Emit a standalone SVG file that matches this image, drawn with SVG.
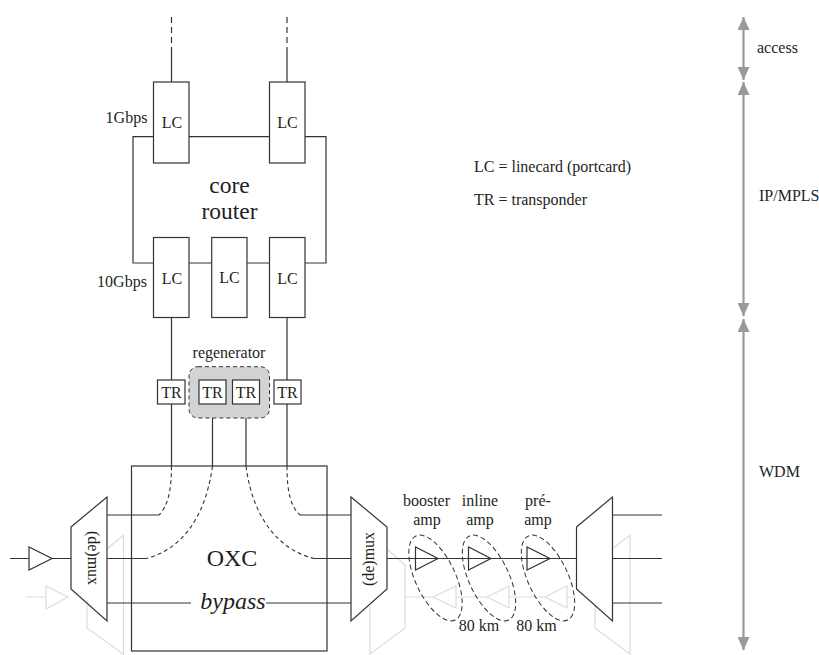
<svg xmlns="http://www.w3.org/2000/svg" width="819" height="655" viewBox="0 0 819 655">
<style>
text{font-family:"Liberation Serif","Times New Roman",serif;fill:#231f20;font-size:16px;text-anchor:middle}
.s{text-anchor:start}
.big{font-size:24px}
.r{font-size:23.5px}
.b{fill:#fff;stroke:#333;stroke-width:1.2}
.l{fill:none;stroke:#333;stroke-width:1.2}
.d{fill:none;stroke:#333;stroke-width:1.1;stroke-dasharray:4 3}
.t{fill:none;stroke:#333;stroke-width:1.2;stroke-dasharray:6 4}
.g{fill:none;stroke:#ddd;stroke-width:1.2}
.a{fill:none;stroke:#333;stroke-width:1.2}
.e{fill:none;stroke:#333;stroke-width:1;stroke-dasharray:5 3}
.sc{stroke:#999;stroke-width:2.2;fill:none;marker-start:url(#h);marker-end:url(#h)}
</style>
<defs>
<marker id="h" markerUnits="userSpaceOnUse" markerWidth="13" markerHeight="12" refX="13" refY="6" viewBox="0 0 13 12" orient="auto-start-reverse"><path d="M0 0L13 6L0 12z" fill="#999"/></marker>
</defs>
<g id="ghost">
<path class="g" d="M26 597H46M46 586V609L68 597z"/>
<path class="g" d="M107 549L123.5 535V655M87 600V628L123 654"/>
<path class="g" d="M387 549L405 565V628L370 654V606M405 597H433M456 597H487M509 597H545M567 597H576"/>
<path class="g" d="M456 586V608L433 597zM509 586V608L487 597zM567 586V608L545 597z"/>
<path class="g" d="M612 549L630 535V655M595 605V628L630 654"/>
</g>
<g id="connectors">
<path class="t" d="M171.5 17V50M287 17V50"/>
<path class="l" d="M171.5 50V82M287 50V82"/>
<path class="l" d="M153.5 136.7H133V263H153.5M189 136.7H269.5M305 136.7H326V263H305M189 263H211.7M247 263H269.5"/>
<path class="l" d="M171.5 318V466M287 318V466M212.5 404V466M246 404V466"/>
<path class="l" d="M107 515H159M107 558.5H146M107 603H191M266 603H351M300 515H351M314 558.5H351"/>
<path class="d" d="M171.5 466C171.5 490 168 506 159 515M212.5 466C205 520 180 550 146 558.5M246 466C253 520 280 550 314 558.5M287 466C287 490 290 506 300 515"/>
<path class="l" d="M10 558.5H29M52 558.5H71M387 558.5H576.5M612.5 515H662M612.5 558.5H662M612.5 603H662"/>
</g>
<g id="router"><text x="229.5" y="192.7" class="r">core</text><text x="229.5" y="219.3" class="r">router</text></g>
<g id="lc1"><rect class="b" x="153.5" y="82" width="35.5" height="81"/><text x="172" y="128">LC</text></g>
<g id="lc2"><rect class="b" x="269.5" y="82" width="35.5" height="81"/><text x="287.5" y="128">LC</text></g>
<g id="lc3"><rect class="b" x="153.5" y="237.5" width="35.5" height="80"/><text x="172" y="284">LC</text></g>
<g id="lc4"><rect class="b" x="211.7" y="237.5" width="35.3" height="80"/><text x="229.5" y="283">LC</text></g>
<g id="lc5"><rect class="b" x="269.5" y="237.5" width="35.5" height="80"/><text x="287.5" y="284">LC</text></g>
<g id="labels">
<text x="126.5" y="123">1Gbps</text><text x="122" y="287">10Gbps</text>
<text class="s" x="474" y="172">LC = linecard (portcard)</text>
<text class="s" x="474" y="205">TR = transponder</text>
</g>
<g id="regenerator"><rect x="189" y="366.7" width="80.5" height="51.3" rx="9" fill="#d1d3d4" stroke="#333" stroke-width="1" stroke-dasharray="4 3"/><text x="229" y="358">regenerator</text></g>
<g id="tr1"><rect class="b" x="157.5" y="380" width="27.5" height="24"/><text x="171.5" y="398">TR</text></g>
<g id="tr2"><rect class="b" x="199" y="380" width="27" height="24"/><text x="212.5" y="398">TR</text></g>
<g id="tr3"><rect class="b" x="232.5" y="380" width="27" height="24"/><text x="246" y="398">TR</text></g>
<g id="tr4"><rect class="b" x="274" y="380" width="27" height="24"/><text x="287.5" y="398">TR</text></g>
<g id="oxc"><rect x="131.5" y="466" width="195.5" height="185" fill="none" stroke="#333" stroke-width="1.2"/><text x="232" y="566" class="big">OXC</text><text x="233" y="609" class="big" font-style="italic">bypass</text></g>
<g id="mux1"><path class="l" d="M71 527L107 497V621L71 589z"/><text transform="translate(87.5 558) rotate(90)">(de)mux</text></g>
<g id="mux2"><path class="l" d="M351 497L387 527V589L351 621z"/><text transform="translate(374 559) rotate(-90)">(de)mux</text></g>
<g id="mux3"><path class="l" d="M576.5 527L612.5 497V621L576.5 589z"/></g>
<g id="amp0"><path class="a" d="M29 547V570L52 558.5z"/></g>
<g id="booster"><path class="a" d="M415.5 547V570L438 558.5z"/><ellipse class="e" cx="435.5" cy="578" rx="46.4" ry="20" transform="rotate(65 435.5 578)"/><text x="426.5" y="506">booster</text><text x="427" y="525">amp</text></g>
<g id="inline"><path class="a" d="M468.5 547V570L491 558.5z"/><ellipse class="e" cx="489" cy="578" rx="46.4" ry="20" transform="rotate(65 489 578)"/><text x="480" y="506">inline</text><text x="480" y="525">amp</text></g>
<g id="pre"><path class="a" d="M527 547V570L550 558.5z"/><ellipse class="e" cx="548" cy="578" rx="46.4" ry="20" transform="rotate(65 548 578)"/><text x="538" y="506">pré-</text><text x="538" y="525">amp</text></g>
<g id="spans"><text x="479" y="631">80 km</text><text x="536.5" y="631">80 km</text></g>
<g id="scale">
<path class="sc" d="M743.5 17V80"/><path class="sc" d="M743.5 82V316"/><path class="sc" d="M743.5 319V650"/>
<text class="s" x="757" y="53">access</text><text class="s" x="759" y="201">IP/MPLS</text><text class="s" x="759" y="477">WDM</text>
</g>
</svg>
